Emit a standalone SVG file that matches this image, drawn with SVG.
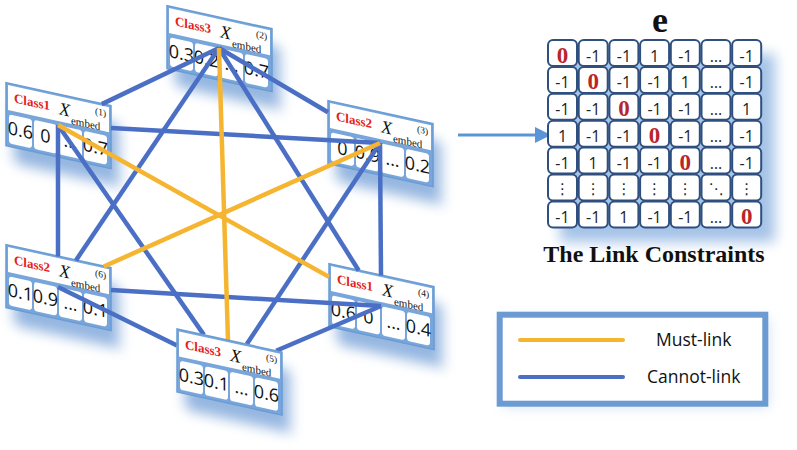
<svg xmlns="http://www.w3.org/2000/svg" width="797" height="450" viewBox="0 0 797 450">
<defs>
<filter id="soft" x="-40%" y="-40%" width="180%" height="180%"><feGaussianBlur stdDeviation="6.5"/></filter>
<style>
.shadow{fill:#4f86cc;opacity:0.6}
.frame{fill:#78a6da;stroke:#6a9cd4;stroke-width:1.5}
.head{fill:#ffffff}
.cell{fill:#ffffff}
.cls{font-family:"Liberation Serif",serif;font-weight:bold;font-size:13px;fill:#e42020}
.X{font-family:"Liberation Serif",serif;font-style:italic;font-size:18px;fill:#111}
.sub{font-family:"Liberation Serif",serif;font-size:11px;fill:#111}
.sup{font-family:"Liberation Serif",serif;font-size:9.5px;fill:#111}
.num{font-family:"Open Sans",sans-serif;font-size:18px;fill:#111;text-anchor:middle}
.must{stroke:#f5b531;stroke-width:4.5;fill:none}
.cannot{stroke:#4a6fc4;stroke-width:4.5;fill:none}
.mcell{fill:#fff;stroke:#2f4f7f;stroke-width:2}
.mv{font-family:"Open Sans",sans-serif;font-size:16px;fill:#222;text-anchor:middle}
.mz{font-family:"Liberation Serif",serif;font-weight:bold;font-size:23px;fill:#b8252b;text-anchor:middle}
.md{font-family:"DejaVu Sans",sans-serif;font-size:15px;fill:#222;text-anchor:middle}
.leg{font-family:"Open Sans",sans-serif;font-size:17.5px;fill:#111}
</style>
</defs>
<rect width="797" height="450" fill="#fff"/>

<g id="card2" transform="translate(167,5.6) skewY(12.4)">
<rect class="shadow" x="8" y="16" width="105" height="63" filter="url(#soft)"/>
<rect class="frame" x="0" y="0" width="105" height="63"/>
<rect class="head" x="2" y="2" width="101" height="25"/>
<rect class="cell" x="3" y="31" width="23" height="29" rx="3"/>
<rect class="cell" x="28" y="31" width="23" height="29" rx="3"/>
<rect class="cell" x="53" y="31" width="23" height="29" rx="3"/>
<rect class="cell" x="78" y="31" width="23" height="29" rx="3"/>
<text class="cls" x="8" y="18">Class3</text>
<text class="X" x="53" y="20">X</text>
<text class="sub" x="65" y="27">embed</text>
<text class="sup" x="89" y="12">(2)</text>
<text class="num" x="14.5" y="51">0.3</text>
<text class="num" x="39.5" y="51">0.2</text>
<text class="num" x="64.5" y="51">...</text>
<text class="num" x="89.5" y="51">0.7</text>
</g>

<g id="card1" transform="translate(6,82.6) skewY(12.4)">
<rect class="shadow" x="8" y="16" width="105" height="63" filter="url(#soft)"/>
<rect class="frame" x="0" y="0" width="105" height="63"/>
<rect class="head" x="2" y="2" width="101" height="25"/>
<rect class="cell" x="3" y="31" width="23" height="29" rx="3"/>
<rect class="cell" x="28" y="31" width="23" height="29" rx="3"/>
<rect class="cell" x="53" y="31" width="23" height="29" rx="3"/>
<rect class="cell" x="78" y="31" width="23" height="29" rx="3"/>
<text class="cls" x="8" y="18">Class1</text>
<text class="X" x="53" y="20">X</text>
<text class="sub" x="65" y="27">embed</text>
<text class="sup" x="89" y="12">(1)</text>
<text class="num" x="14.5" y="51">0.6</text>
<text class="num" x="39.5" y="51">0</text>
<text class="num" x="64.5" y="51">...</text>
<text class="num" x="89.5" y="51">0.7</text>
</g>

<g id="card3" transform="translate(328,100.6) skewY(12.4)">
<rect class="shadow" x="8" y="16" width="105" height="63" filter="url(#soft)"/>
<rect class="frame" x="0" y="0" width="105" height="63"/>
<rect class="head" x="2" y="2" width="101" height="25"/>
<rect class="cell" x="3" y="31" width="23" height="29" rx="3"/>
<rect class="cell" x="28" y="31" width="23" height="29" rx="3"/>
<rect class="cell" x="53" y="31" width="23" height="29" rx="3"/>
<rect class="cell" x="78" y="31" width="23" height="29" rx="3"/>
<text class="cls" x="8" y="18">Class2</text>
<text class="X" x="53" y="20">X</text>
<text class="sub" x="65" y="27">embed</text>
<text class="sup" x="89" y="12">(3)</text>
<text class="num" x="14.5" y="51">0</text>
<text class="num" x="39.5" y="51">0.9</text>
<text class="num" x="64.5" y="51">...</text>
<text class="num" x="89.5" y="51">0.2</text>
</g>

<g id="card6" transform="translate(6,244.6) skewY(12.4)">
<rect class="shadow" x="8" y="16" width="105" height="63" filter="url(#soft)"/>
<rect class="frame" x="0" y="0" width="105" height="63"/>
<rect class="head" x="2" y="2" width="101" height="25"/>
<rect class="cell" x="3" y="31" width="23" height="29" rx="3"/>
<rect class="cell" x="28" y="31" width="23" height="29" rx="3"/>
<rect class="cell" x="53" y="31" width="23" height="29" rx="3"/>
<rect class="cell" x="78" y="31" width="23" height="29" rx="3"/>
<text class="cls" x="8" y="18">Class2</text>
<text class="X" x="53" y="20">X</text>
<text class="sub" x="65" y="27">embed</text>
<text class="sup" x="89" y="12">(6)</text>
<text class="num" x="14.5" y="51">0.1</text>
<text class="num" x="39.5" y="51">0.9</text>
<text class="num" x="64.5" y="51">...</text>
<text class="num" x="89.5" y="51">0.1</text>
</g>

<g id="card4" transform="translate(329,263.6) skewY(12.4)">
<rect class="shadow" x="8" y="16" width="105" height="63" filter="url(#soft)"/>
<rect class="frame" x="0" y="0" width="105" height="63"/>
<rect class="head" x="2" y="2" width="101" height="25"/>
<rect class="cell" x="3" y="31" width="23" height="29" rx="3"/>
<rect class="cell" x="28" y="31" width="23" height="29" rx="3"/>
<rect class="cell" x="53" y="31" width="23" height="29" rx="3"/>
<rect class="cell" x="78" y="31" width="23" height="29" rx="3"/>
<text class="cls" x="8" y="18">Class1</text>
<text class="X" x="53" y="20">X</text>
<text class="sub" x="65" y="27">embed</text>
<text class="sup" x="89" y="12">(4)</text>
<text class="num" x="14.5" y="51">0.6</text>
<text class="num" x="39.5" y="51">0</text>
<text class="num" x="64.5" y="51">...</text>
<text class="num" x="89.5" y="51">0.4</text>
</g>

<g id="connectors">
<line class="cannot" x1="219" y1="48" x2="101.8" y2="104.1"/>
<line class="cannot" x1="219" y1="48" x2="75.9" y2="260.4"/>
<line class="cannot" x1="219" y1="48" x2="328" y2="112.3"/>
<line class="cannot" x1="219" y1="48" x2="358.7" y2="270.5"/>
<line class="cannot" x1="111" y1="128" x2="380" y2="143"/>
<line class="cannot" x1="58" y1="125" x2="203.9" y2="334.9"/>
<line class="cannot" x1="58" y1="125" x2="58" y2="256.4"/>
<line class="cannot" x1="380" y1="143" x2="381" y2="275.4"/>
<line class="cannot" x1="380" y1="143" x2="246.7" y2="344.3"/>
<line class="cannot" x1="111" y1="290.1" x2="381" y2="306"/>
<line class="cannot" x1="58" y1="287" x2="177" y2="345.5"/>
<line class="cannot" x1="381" y1="306" x2="276.2" y2="350.8"/>
<line class="must" x1="219" y1="48" x2="228" y2="340.2"/>
<line class="must" x1="58" y1="125" x2="329" y2="276.9"/>
<line class="must" x1="380" y1="143" x2="103.8" y2="266.5"/>
</g>

<g id="card5" transform="translate(177,329) skewY(12.4)">
<rect class="shadow" x="8" y="16" width="105" height="63" filter="url(#soft)"/>
<rect class="frame" x="0" y="0" width="105" height="63"/>
<rect class="head" x="2" y="2" width="101" height="25"/>
<rect class="cell" x="3" y="31" width="23" height="29" rx="3"/>
<rect class="cell" x="28" y="31" width="23" height="29" rx="3"/>
<rect class="cell" x="53" y="31" width="23" height="29" rx="3"/>
<rect class="cell" x="78" y="31" width="23" height="29" rx="3"/>
<text class="cls" x="8" y="18">Class3</text>
<text class="X" x="53" y="20">X</text>
<text class="sub" x="65" y="27">embed</text>
<text class="sup" x="89" y="12">(5)</text>
<text class="num" x="14.5" y="51">0.3</text>
<text class="num" x="39.5" y="51">0.1</text>
<text class="num" x="64.5" y="51">...</text>
<text class="num" x="89.5" y="51">0.6</text>
</g>

<g id="arrow">
<line x1="458" y1="135" x2="538" y2="135" stroke="#5b95d5" stroke-width="3"/>
<polygon points="535,127 551,135 535,143" fill="#5b95d5"/>
</g>

<g id="matrix">
<rect x="560" y="54" width="215" height="188" fill="#5b92d4" opacity="0.55" filter="url(#soft)"/>
<text x="660" y="31.5" font-family="Liberation Serif, serif" font-weight="bold" font-size="36" text-anchor="middle" fill="#111">e</text>
<g id="mcells">
<rect class="mcell" x="548" y="40" width="29" height="26" rx="5"/><rect class="mcell" x="578.7" y="40" width="29" height="26" rx="5"/><rect class="mcell" x="609.4" y="40" width="29" height="26" rx="5"/><rect class="mcell" x="640.1" y="40" width="29" height="26" rx="5"/><rect class="mcell" x="670.8" y="40" width="29" height="26" rx="5"/><rect class="mcell" x="701.5" y="40" width="29" height="26" rx="5"/><rect class="mcell" x="732.2" y="40" width="29" height="26" rx="5"/>
<rect class="mcell" x="548" y="66.9" width="29" height="26" rx="5"/><rect class="mcell" x="578.7" y="66.9" width="29" height="26" rx="5"/><rect class="mcell" x="609.4" y="66.9" width="29" height="26" rx="5"/><rect class="mcell" x="640.1" y="66.9" width="29" height="26" rx="5"/><rect class="mcell" x="670.8" y="66.9" width="29" height="26" rx="5"/><rect class="mcell" x="701.5" y="66.9" width="29" height="26" rx="5"/><rect class="mcell" x="732.2" y="66.9" width="29" height="26" rx="5"/>
<rect class="mcell" x="548" y="93.8" width="29" height="26" rx="5"/><rect class="mcell" x="578.7" y="93.8" width="29" height="26" rx="5"/><rect class="mcell" x="609.4" y="93.8" width="29" height="26" rx="5"/><rect class="mcell" x="640.1" y="93.8" width="29" height="26" rx="5"/><rect class="mcell" x="670.8" y="93.8" width="29" height="26" rx="5"/><rect class="mcell" x="701.5" y="93.8" width="29" height="26" rx="5"/><rect class="mcell" x="732.2" y="93.8" width="29" height="26" rx="5"/>
<rect class="mcell" x="548" y="120.7" width="29" height="26" rx="5"/><rect class="mcell" x="578.7" y="120.7" width="29" height="26" rx="5"/><rect class="mcell" x="609.4" y="120.7" width="29" height="26" rx="5"/><rect class="mcell" x="640.1" y="120.7" width="29" height="26" rx="5"/><rect class="mcell" x="670.8" y="120.7" width="29" height="26" rx="5"/><rect class="mcell" x="701.5" y="120.7" width="29" height="26" rx="5"/><rect class="mcell" x="732.2" y="120.7" width="29" height="26" rx="5"/>
<rect class="mcell" x="548" y="147.6" width="29" height="26" rx="5"/><rect class="mcell" x="578.7" y="147.6" width="29" height="26" rx="5"/><rect class="mcell" x="609.4" y="147.6" width="29" height="26" rx="5"/><rect class="mcell" x="640.1" y="147.6" width="29" height="26" rx="5"/><rect class="mcell" x="670.8" y="147.6" width="29" height="26" rx="5"/><rect class="mcell" x="701.5" y="147.6" width="29" height="26" rx="5"/><rect class="mcell" x="732.2" y="147.6" width="29" height="26" rx="5"/>
<rect class="mcell" x="548" y="174.5" width="29" height="26" rx="5"/><rect class="mcell" x="578.7" y="174.5" width="29" height="26" rx="5"/><rect class="mcell" x="609.4" y="174.5" width="29" height="26" rx="5"/><rect class="mcell" x="640.1" y="174.5" width="29" height="26" rx="5"/><rect class="mcell" x="670.8" y="174.5" width="29" height="26" rx="5"/><rect class="mcell" x="701.5" y="174.5" width="29" height="26" rx="5"/><rect class="mcell" x="732.2" y="174.5" width="29" height="26" rx="5"/>
<rect class="mcell" x="548" y="201.4" width="29" height="26" rx="5"/><rect class="mcell" x="578.7" y="201.4" width="29" height="26" rx="5"/><rect class="mcell" x="609.4" y="201.4" width="29" height="26" rx="5"/><rect class="mcell" x="640.1" y="201.4" width="29" height="26" rx="5"/><rect class="mcell" x="670.8" y="201.4" width="29" height="26" rx="5"/><rect class="mcell" x="701.5" y="201.4" width="29" height="26" rx="5"/><rect class="mcell" x="732.2" y="201.4" width="29" height="26" rx="5"/>
</g>
<g id="mvalues">
<text class="mz" x="562.5" y="62.5">0</text><text class="mv" x="593.2" y="61.5">-1</text><text class="mv" x="623.9" y="61.5">-1</text><text class="mv" x="654.6" y="61.5">1</text><text class="mv" x="685.3" y="61.5">-1</text><text class="mv" x="716" y="61.5">…</text><text class="mv" x="746.7" y="61.5">-1</text>
<text class="mv" x="562.5" y="88.4">-1</text><text class="mz" x="593.2" y="89.4">0</text><text class="mv" x="623.9" y="88.4">-1</text><text class="mv" x="654.6" y="88.4">-1</text><text class="mv" x="685.3" y="88.4">1</text><text class="mv" x="716" y="88.4">…</text><text class="mv" x="746.7" y="88.4">-1</text>
<text class="mv" x="562.5" y="115.3">-1</text><text class="mv" x="593.2" y="115.3">-1</text><text class="mz" x="623.9" y="116.3">0</text><text class="mv" x="654.6" y="115.3">-1</text><text class="mv" x="685.3" y="115.3">-1</text><text class="mv" x="716" y="115.3">…</text><text class="mv" x="746.7" y="115.3">1</text>
<text class="mv" x="562.5" y="142.2">1</text><text class="mv" x="593.2" y="142.2">-1</text><text class="mv" x="623.9" y="142.2">-1</text><text class="mz" x="654.6" y="143.2">0</text><text class="mv" x="685.3" y="142.2">-1</text><text class="mv" x="716" y="142.2">…</text><text class="mv" x="746.7" y="142.2">-1</text>
<text class="mv" x="562.5" y="169.1">-1</text><text class="mv" x="593.2" y="169.1">1</text><text class="mv" x="623.9" y="169.1">-1</text><text class="mv" x="654.6" y="169.1">-1</text><text class="mz" x="685.3" y="170.1">0</text><text class="mv" x="716" y="169.1">…</text><text class="mv" x="746.7" y="169.1">-1</text>
<text class="md" x="562.5" y="194">⋮</text><text class="md" x="593.2" y="194">⋮</text><text class="md" x="623.9" y="194">⋮</text><text class="md" x="654.6" y="194">⋮</text><text class="md" x="685.3" y="194">⋮</text><text class="md" x="716" y="194">⋱</text><text class="md" x="746.7" y="194">⋮</text>
<text class="mv" x="562.5" y="222.9">-1</text><text class="mv" x="593.2" y="222.9">-1</text><text class="mv" x="623.9" y="222.9">1</text><text class="mv" x="654.6" y="222.9">-1</text><text class="mv" x="685.3" y="222.9">-1</text><text class="mv" x="716" y="222.9">…</text><text class="mz" x="746.7" y="223.9">0</text>
</g>
<text x="654" y="262" font-family="Liberation Serif, serif" font-weight="bold" font-size="24" text-anchor="middle" fill="#111">The Link Constraints</text>
</g>

<g id="legend">
<rect x="503" y="318" width="266" height="89" fill="#5b92d4" opacity="0.25" filter="url(#soft)"/>
<rect x="499.7" y="314.7" width="265.6" height="89" fill="#fff" stroke="#6b9bd2" stroke-width="6"/>
<line x1="520" y1="340" x2="623" y2="340" stroke="#f5b531" stroke-width="4" stroke-linecap="round"/>
<line x1="520" y1="377" x2="623" y2="377" stroke="#4a6fc4" stroke-width="4" stroke-linecap="round"/>
<text class="leg" x="656" y="346">Must-link</text>
<text class="leg" x="647" y="383">Cannot-link</text>
</g>
</svg>
